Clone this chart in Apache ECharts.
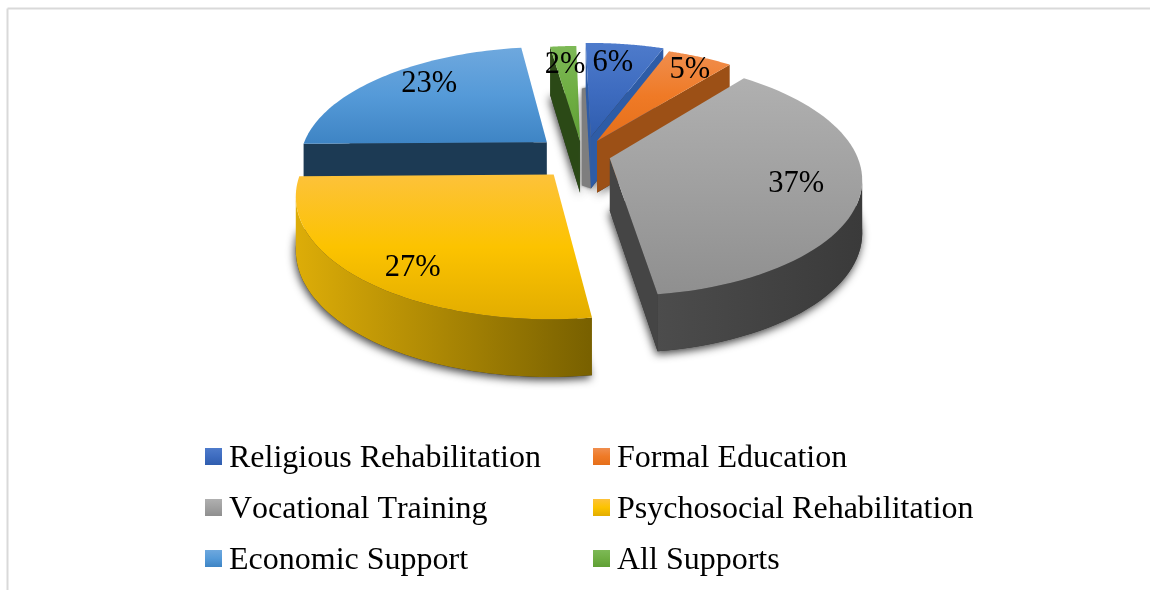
<!DOCTYPE html>
<html>
<head>
<meta charset="utf-8">
<style>html,body{margin:0;padding:0;background:#fff}#chart{width:1150px;height:590px}</style>
<script src="https://cdn.jsdelivr.net/npm/echarts@6/dist/echarts.min.js"></script>
</head>
<body>
<div id="chart"></div>
<script>
// Rehabilitation services received, share of respondents (%)
const categories = ['Religious Rehabilitation', 'Formal Education', 'Vocational Training',
  'Psychosocial Rehabilitation', 'Economic Support', 'All Supports'];
const values = [6, 5, 37, 27, 23, 2];

// Colour ramps for the top face of each slice
const topColors = [
  ['#4E7BCB', '#3E6CC0', '#2F5DAE'],
  ['#F08E4E', '#EF7A26', '#E56F1A'],
  ['#B0B0B0', '#A0A0A0', '#8F8F8F'],
  ['#FDC23A', '#FCC300', '#E2AD00'],
  ['#6EA8DE', '#559AD8', '#3E84C4'],
  ['#7DB956', '#6FAE43', '#5F9F35']
];
// Side faces: straight cut face, then the rounded wall (left and right ends)
const cutColors = ['#2E5CA6', '#9C5016', '#454545', '#7A6000', '#1C3A54', '#2B4916'];
const wallColors = [
  ['#2E5CA6', '#2E5CA6'], ['#9C5016', '#9C5016'], ['#4C4C4C', '#3A3A3A'],
  ['#DDAD08', '#786000'], ['#1C3A54', '#1C3A54'], ['#2B4916', '#2B4916']
];

// Slice displacement on the ground plane, in pie radii
const shiftX = [0.07, 0.095, 0.144, -0.08, -0.112, 0.025];
const shiftY = [0.147, 0.11, -0.042, -0.18, 0.099, 0.11];
// Label placement: distance from the slice tip, and position across the slice (0..1)
const labelRadius = [0.795, 0.86, 0.75, 0.829, 0.81, 0.803];
const labelSweep = [0.41, 0.55, 0.5, 0.451, 0.59, 0.45];
const paintOrder = [3, 4, 5, 6, 1, 2];

// Projection of the pie plane
const cam = { cx: 574, cy: 153.4, rx: 246.5, ry: 114, persp: 0.16, height: 52, startDeg: -0.8, labelDrop: 2 };
const serif = '"Liberation Serif","Times New Roman",serif';

// Text is set without pair kerning
const baseFillText = CanvasRenderingContext2D.prototype.fillText;
CanvasRenderingContext2D.prototype.fillText = function (...args) {
  this.fontKerning = 'none';
  return baseFillText.apply(this, args);
};

const total = values.reduce((a, b) => a + b, 0);
function project(X, Y) {
  const s = 1 / (1 + cam.persp * Y);
  return { x: cam.cx + cam.rx * X * s, y: cam.cy - cam.ry * Y * s, s };
}
function drop(p) { return [p.x, p.y + cam.height * Math.sqrt(p.s)]; }
function ramp(stops, horizontal) {
  return new echarts.graphic.LinearGradient(0, 0, horizontal ? 1 : 0, horizontal ? 0 : 1,
    stops.map((c, i) => ({ offset: i / (stops.length - 1), color: c })));
}

function sliceAngles(i) {
  const before = values.slice(0, i).reduce((a, b) => a + b, 0);
  const start = cam.startDeg * Math.PI / 180;
  return [start + before / total * 2 * Math.PI, start + (before + values[i]) / total * 2 * Math.PI];
}

function renderSlice(i) {
  const [a0, a1] = sliceAngles(i);
  const sx = shiftX[i], sy = shiftY[i];
  const apex = project(sx, sy);
  const steps = 60, arc = [];
  for (let k = 0; k <= steps; k++) {
    const t = a0 + (a1 - a0) * k / steps;
    arc.push(project(sx + Math.sin(t), sy + Math.cos(t)));
  }
  const outline = [apex].concat(arc);
  const children = [];

  // soft ground shadow under the base of the slice
  children.push({
    type: 'polygon',
    shape: { points: outline.map(drop) },
    style: { fill: '#333', shadowBlur: 9, shadowColor: 'rgba(0,0,0,0.75)', shadowOffsetX: -1, shadowOffsetY: 3 }
  });

  // narrow shaded strip on the slice that leaves the 12 o'clock edge
  if (i === 0) {
    const rise = project(sx + 0.5 * Math.sin(a0), sy + 0.5 * Math.cos(a0));
    const foot = drop(apex);
    children.push({
      type: 'polygon',
      shape: { points: [[apex.x, rise.y], [apex.x - 9, rise.y + 2], [apex.x - 9, foot[1] - 3], [apex.x, foot[1]]] },
      style: { fill: '#7E7E7E', shadowBlur: 3, shadowColor: 'rgba(110,110,110,0.8)' }
    });
  }

  const wall = (run, fill) => {
    const pts = run.map(p => [p.x, p.y]).concat(run.slice().reverse().map(drop));
    children.push({ type: 'polygon', shape: { points: pts }, style: { fill } });
  };
  // a face shows when its top edge runs leftward along the clockwise outline
  if (arc[0].x < apex.x) wall([apex, arc[0]], cutColors[i]);
  if (apex.x < arc[steps].x) wall([arc[steps], apex], cutColors[i]);
  let run = [];
  for (let k = 0; k < steps; k++) {
    if (arc[k + 1].x < arc[k].x) {
      if (!run.length) run.push(arc[k]);
      run.push(arc[k + 1]);
    }
  }
  if (run.length > 1) wall(run, ramp(wallColors[i], true));

  // top face
  children.push({
    type: 'polygon',
    shape: { points: outline.map(p => [p.x, p.y]) },
    style: { fill: ramp(topColors[i], false) }
  });

  // value label
  const mid = a0 + (a1 - a0) * labelSweep[i];
  const lp = project(sx + labelRadius[i] * Math.sin(mid), sy + labelRadius[i] * Math.cos(mid));
  children.push({
    type: 'text', z2: 50,
    style: { text: values[i] + '%', x: lp.x, y: lp.y + cam.labelDrop, align: 'center', verticalAlign: 'middle',
      font: '30.5px ' + serif, fill: '#000' }
  });
  return { type: 'group', children };
}

const legendStyle = {
  orient: 'vertical', top: 433.5, itemWidth: 17, itemHeight: 17, itemGap: 15, padding: [5, 5, 5, 0],
  icon: 'rect',
  formatter: name => '{t|' + name + '}',
  textStyle: {
    padding: [0, 0, 0, 2],
    rich: { t: { fontFamily: serif, fontSize: 32, color: '#000', lineHeight: 36, padding: [4, 0, 0, 0] } }
  }
};
const legendItem = i => ({ name: categories[i], itemStyle: { color: ramp(topColors[i], false) } });

const chart = echarts.init(document.getElementById('chart'), null, { renderer: 'canvas' });
chart.setOption({
  animation: false,
  backgroundColor: '#fff',
  graphic: [
    { type: 'line', silent: true, shape: { x1: 7.5, y1: 8.5, x2: 1150, y2: 8.5 }, style: { stroke: '#D9D9D9', lineWidth: 2 } },
    { type: 'line', silent: true, shape: { x1: 7.5, y1: 8.5, x2: 7.5, y2: 590 }, style: { stroke: '#D9D9D9', lineWidth: 2 } }
  ],
  legend: [
    Object.assign({ left: 205, data: [0, 2, 4].map(legendItem) }, legendStyle),
    Object.assign({ left: 593, data: [1, 3, 5].map(legendItem) }, legendStyle)
  ],
  series: categories.map((name, i) => ({
    type: 'custom',
    name,
    coordinateSystem: 'none',
    z: paintOrder[i] + 2,
    silent: true,
    data: [values[i]],
    itemStyle: { color: topColors[i][1] },
    renderItem: () => renderSlice(i)
  }))
});
</script>
</body>
</html>
